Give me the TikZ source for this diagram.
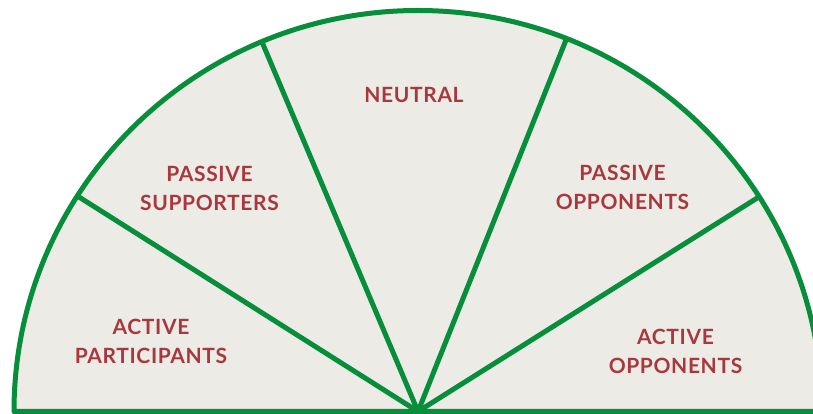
\documentclass[tikz,border=0pt]{standalone}
\usepackage{fontspec}
\setmainfont{Lato}
\newfontfamily\labelfont[LetterSpace=3]{Lato}
\definecolor{fanGreen}{HTML}{068E3A}
\definecolor{fanFill}{HTML}{EDEBE6}
\definecolor{fanText}{HTML}{A8383D}
\begin{document}
\begin{tikzpicture}[x=1pt,y=1pt,
  divider/.style={draw=fanGreen,line width=5pt},
  label/.style={text=fanText,inner sep=0pt,align=center,font=\labelfont\fontsize{21}{29}\selectfont\bfseries}]
\useasboundingbox (0,0) rectangle (813,414);
\coordinate (C) at (418,2.5);
\coordinate (L) at (14,2.5);
\coordinate (R) at (822,2.5);
\coordinate (p1) at (79,217);
\coordinate (p2) at (262,372);
\coordinate (p3) at (566,374);
\coordinate (p4) at (758,216.5);
\fill[fanFill] (L) arc[start angle=180,end angle=0,x radius=404,y radius=401] -- cycle;
\draw[divider] (C) -- (p1);
\draw[divider] (C) -- (p2);
\draw[divider] (C) -- (p3);
\draw[divider] (C) -- (p4);
\draw[divider,line join=round] (R) -- (L) arc[start angle=180,end angle=0,x radius=404,y radius=401];
\node[label] (ap) at (151,72.5) {ACTIVE\\PARTICIPANTS};
\node[label] (ps) at (209.5,225.5) {PASSIVE\\SUPPORTERS};
\node[label] (ne) at (414,319) {NEUTRAL};
\node[label] (po) at (622.5,226.5) {PASSIVE\\OPPONENTS};
\node[label] (ao) at (675.5,62.5) {ACTIVE\\OPPONENTS};
\end{tikzpicture}
\end{document}
